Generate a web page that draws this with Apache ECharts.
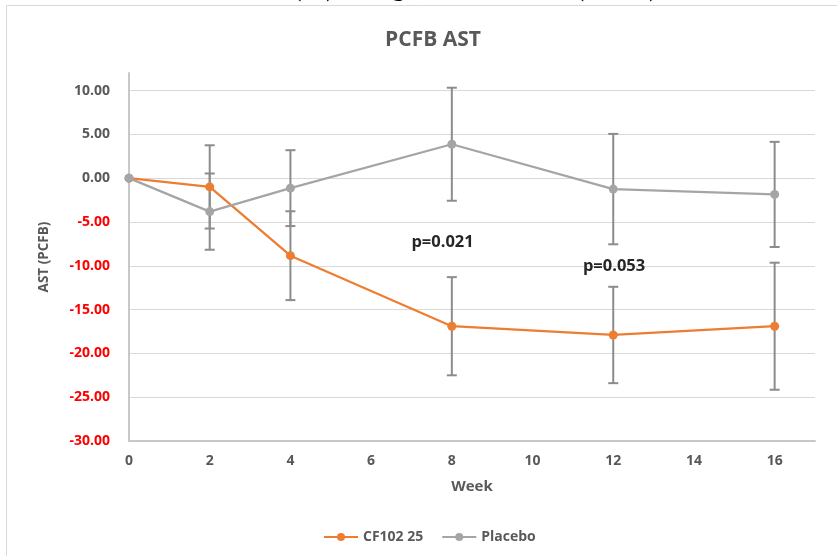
<!DOCTYPE html>
<html>
<head>
<meta charset="utf-8">
<script src="https://cdn.jsdelivr.net/npm/echarts@6/dist/echarts.min.js"></script>
<style>
  html, body { margin: 0; padding: 0; background: #ffffff; }
  #chart { width: 837px; height: 556px; }
</style>
</head>
<body>
<div id="chart"></div>
<script>
// Study visits (weeks) and mean percent change from baseline in AST
const weeks = [0, 2, 4, 8, 12, 16];
const cf102 = [0, -1.0, -8.85, -16.9, -17.9, -16.9];
const cf102Err = [0, 4.75, 5.07, 5.6, 5.5, 7.25];
const placebo = [0, -3.82, -1.14, 3.87, -1.25, -1.86];
const placeboErr = [0, 4.35, 4.33, 6.45, 6.3, 6.0];

// Y tick values that carry labels and gridlines
const yTicks = [-30, -25, -20, -15, -10, -5, 0, 5, 10];

// p-value annotations, placed in data coordinates (week, % change)
const pNotes = [
  { text: 'p=0.021', week: 7.77, value: -7.3 },
  { text: 'p=0.053', week: 12.02, value: -10.1 }
];

const FONT = '"Open Sans", "Liberation Sans", sans-serif';
const GREY_TEXT = '#595959';

const chart = echarts.init(document.getElementById('chart'), null, { renderer: 'canvas' });

function errorBars(values, errs) {
  return {
    type: 'custom',
    silent: true,
    z: 1,
    data: weeks
      .map((w, i) => [w, values[i] - errs[i], values[i] + errs[i]])
      .filter(d => d[2] > d[1]),
    encode: { x: 0, y: [1, 2] },
    renderItem(params, api) {
      const lo = api.coord([api.value(0), api.value(1)]);
      const hi = api.coord([api.value(0), api.value(2)]);
      const cap = 5;
      const style = { stroke: '#8c8c8c', lineWidth: 2 };
      return {
        type: 'group',
        children: [
          { type: 'line', shape: { x1: lo[0], y1: lo[1], x2: hi[0], y2: hi[1] }, style },
          { type: 'line', shape: { x1: lo[0] - cap, y1: lo[1], x2: lo[0] + cap, y2: lo[1] }, style },
          { type: 'line', shape: { x1: hi[0] - cap, y1: hi[1], x2: hi[0] + cap, y2: hi[1] }, style }
        ]
      };
    }
  };
}

function lineSeries(name, values, color) {
  return {
    type: 'line',
    name,
    z: 3,
    data: weeks.map((w, i) => [w, values[i]]),
    symbol: 'circle',
    symbolSize: 9,
    lineStyle: { color, width: 2.25 },
    itemStyle: { color },
    emphasis: { disabled: true }
  };
}

// Gridline colours: one per tick; the extra boundary tick at the top stays hidden
const gridColors = yTicks.map(() => '#d9d9d9').concat(['rgba(0,0,0,0)']);

chart.setOption({
  animation: false,
  backgroundColor: '#ffffff',
  title: {
    text: 'PCFB AST',
    left: 428,
    top: 25,
    textAlign: 'center',
    textStyle: { fontFamily: FONT, fontSize: 21, fontWeight: 'bold', color: GREY_TEXT }
  },
  legend: {
    data: ['CF102 25', 'Placebo'],
    left: 318,
    top: 525,
    itemWidth: 34,
    itemHeight: 10,
    itemGap: 18,
    textStyle: { fontFamily: FONT, fontSize: 14, fontWeight: 'bold', color: GREY_TEXT }
  },
  grid: { left: 129, right: 22, top: 73, bottom: 115, containLabel: false },
  xAxis: {
    type: 'value',
    min: 0,
    max: 17,
    interval: 2,
    name: 'Week',
    nameLocation: 'middle',
    nameGap: 38,
    nameTextStyle: { fontFamily: FONT, fontSize: 15, fontWeight: 'bold', color: GREY_TEXT },
    axisLine: { show: true, onZero: false, lineStyle: { color: '#c8c8c8', width: 2 } },
    axisTick: { show: false },
    splitLine: { show: false },
    axisLabel: {
      margin: 13,
      fontFamily: FONT, fontSize: 14, fontWeight: 'bold', color: GREY_TEXT,
      formatter: v => (v % 2 === 0 ? String(v) : '')
    }
  },
  yAxis: {
    type: 'value',
    min: -30,
    max: 12,
    interval: 5,
    name: 'AST (PCFB)',
    nameLocation: 'middle',
    nameGap: 78,
    nameTextStyle: { fontFamily: FONT, fontSize: 13.5, fontWeight: 'bold', color: GREY_TEXT },
    axisLine: { show: true, onZero: false, lineStyle: { color: '#c8c8c8', width: 2 } },
    axisTick: { show: false },
    splitLine: { show: true, lineStyle: { color: gridColors, width: 1 } },
    axisLabel: {
      margin: 19,
      fontFamily: FONT, fontSize: 14, fontWeight: 'bold',
      color: v => (Number(v) < 0 ? '#ff0000' : GREY_TEXT),
      formatter: v => (v % 5 === 0 ? v.toFixed(2) : '')
    }
  },
  series: [
    errorBars(cf102, cf102Err),
    errorBars(placebo, placeboErr),
    lineSeries('CF102 25', cf102, '#ED7D31'),
    lineSeries('Placebo', placebo, '#A5A5A5')
  ]
});

// Frame, caption line above it, and the p-value notes
const notes = pNotes.map(n => {
  const p = chart.convertToPixel({ gridIndex: 0 }, [n.week, n.value]);
  return {
    type: 'text',
    x: p[0],
    y: p[1],
    z: 10,
    style: {
      text: n.text,
      align: 'center',
      verticalAlign: 'middle',
      fontFamily: FONT,
      fontSize: 16.5,
      fontWeight: 'bold',
      fill: '#262626'
    }
  };
});

chart.setOption({
  graphic: [
    {
      type: 'rect',
      shape: { x: 6.5, y: 5.5, width: 900, height: 700 },
      style: { fill: 'none', stroke: '#d9d9d9', lineWidth: 1 },
      silent: true,
      z: -1
    },
    {
      type: 'text',
      x: 83,
      y: 2,
      style: {
        text: 'Mean AST Percent (%) change from Baseline (PCFB)',
        verticalAlign: 'bottom',
        fontFamily: '"Liberation Serif", serif',
        fontSize: 25,
        fontWeight: 'bold',
        fill: '#000000'
      }
    }
  ].concat(notes)
});
</script>
</body>
</html>
